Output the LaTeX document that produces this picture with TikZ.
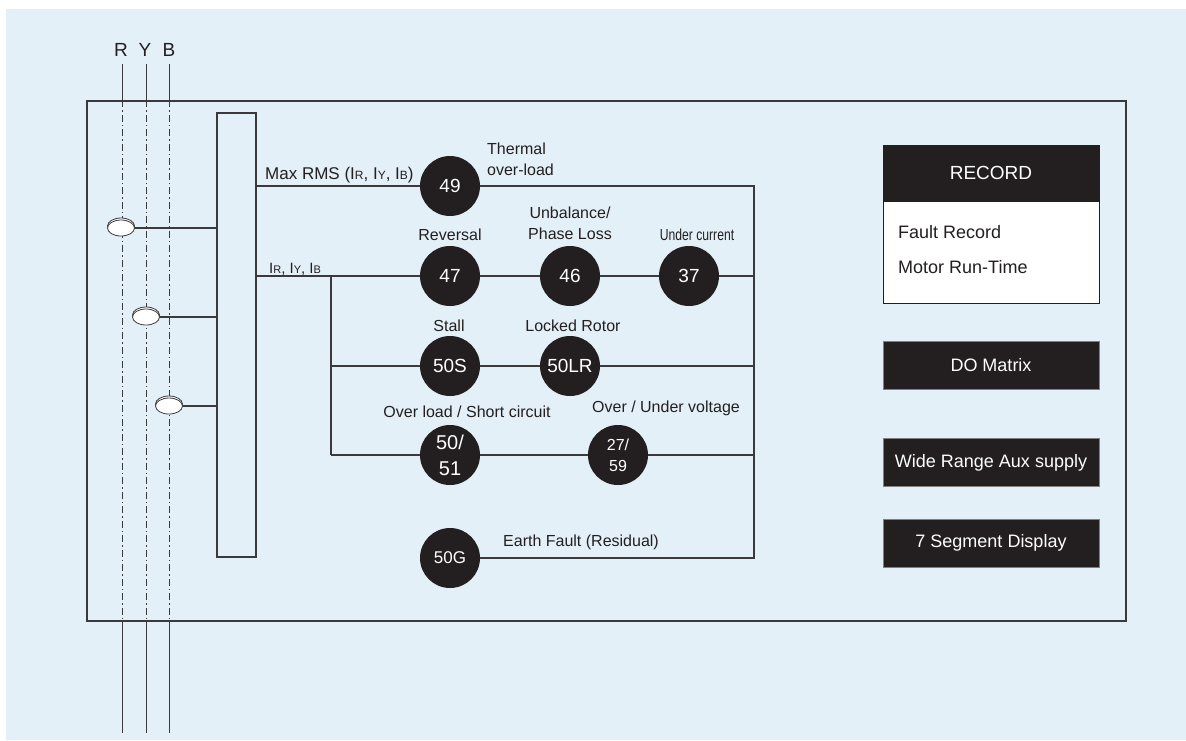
\documentclass[tikz,border=0pt]{standalone}
\usepackage{fontspec}
\setmainfont{Liberation Sans}
\usetikzlibrary{shapes.geometric}
\definecolor{bg}{HTML}{E4F0F7}
\definecolor{ink}{HTML}{231F20}
\definecolor{ln}{HTML}{3A3A3C}
\newcommand{\smsub}[2]{{\fontsize{#1}{#1}\selectfont #2}}
\begin{document}
\begin{tikzpicture}[x=1pt,y=-1pt,
  relay/.style={circle, fill=ink, draw=none, minimum size=60pt, inner sep=0pt, text=white,
    font=\fontsize{19}{24}\selectfont, align=center},
  lbl/.style={font=\fontsize{16}{21}\selectfont, text=ink, inner sep=0pt, align=center},
  wire/.style={draw=ln, line width=1.1pt},
  darkbox/.style={fill=ink, draw=gray, line width=0.8pt, minimum width=216pt, minimum height=48pt,
    text=white, font=\fontsize{18}{20}\selectfont, inner sep=0pt},
  ct/.style={ellipse, draw=ln, fill=white, minimum width=27pt, minimum height=16pt, inner sep=0pt, line width=0.8pt},
  phase/.style={draw=ln, line width=1pt},
  phasein/.style={draw=ln, line width=1pt, dash pattern=on 7pt off 3pt on 1.5pt off 3pt}
]
\useasboundingbox (0,0) rectangle (1186,740);
\fill[white] (0,0) rectangle (1186,740);
\fill[bg] (6,9) rectangle (1186,740);

% panel and bus
\node[draw=ln, line width=1.2pt, minimum width=1039pt, minimum height=520pt, inner sep=0pt] (panel) at (606.5,361) {};
\node[draw=ln, line width=1.1pt, minimum width=39pt, minimum height=444pt, inner sep=0pt] (bus) at (236.5,335) {};

% phases
\node[font=\fontsize{19}{20}\selectfont, text=ink] (lR) at (121,50) {R};
\node[font=\fontsize{19}{20}\selectfont, text=ink] (lY) at (145,50) {Y};
\node[font=\fontsize{19}{20}\selectfont, text=ink] (lB) at (169,50) {B};
\coordinate (Rt) at (122,64); \coordinate (Rb) at (122,733);
\coordinate (Yt) at (146,64); \coordinate (Yb) at (146,733);
\coordinate (Bt) at (169,64); \coordinate (Bb) at (169,733);
\foreach \p in {R,Y,B}{
  \draw[phase] (\p t) -- (\p t |- panel.north);
  \draw[phasein] (\p t |- panel.north) -- (\p t |- panel.south);
  \draw[phase] (\p t |- panel.south) -- (\p b);
}

% CTs
\node[ct] at (121,226) {};
\node[ct] (ctR) at (121,228) {};
\node[ct] at (146,315) {};
\node[ct] (ctY) at (146,317) {};
\node[ct] at (169,404) {};
\node[ct] (ctB) at (169,406) {};
\draw[wire] (ctR.east) -- (ctR.east -| bus.west);
\draw[wire] (ctY.east) -- (ctY.east -| bus.west);
\draw[wire] (ctB.east) -- (ctB.east -| bus.west);

% relays
\coordinate (rtop) at (754,186);
\coordinate (rbot) at (754,558);
\coordinate (br) at (331,276);
\node[relay] (r49) at (450,186) {49};
\node[relay] (r47) at (450,276) {47};
\node[relay] (r46) at (570,276) {46};
\node[relay] (r37) at (689,276) {37};
\node[relay] (r50S) at (450,366) {50S};
\node[relay] (r50LR) at (570,366) {50LR};
\node[relay, font=\fontsize{20}{26}\selectfont] (r5051) at (450,455) {50/\\51};
\node[relay, font=\fontsize{16}{21}\selectfont] (r2759) at (618,455) {27/\\59};
\node[relay, font=\fontsize{17}{20}\selectfont] (r50G) at (450,558) {50G};

% wires
\draw[wire] (bus.east |- rtop) -- (r49) (r49) -- (rtop) -- (rbot) -- (r50G);
\draw[wire] (bus.east |- r47) -- (r47) (r47) -- (r46) (r46) -- (r37) (r37) -- (r37 -| rtop);
\draw[wire] (br) -- (br |- r5051);
\draw[wire] (br |- r50S) -- (r50S) (r50S) -- (r50LR) (r50LR) -- (r50LR -| rtop);
\draw[wire] (br |- r5051) -- (r5051) (r5051) -- (r2759) (r2759) -- (r2759 -| rtop);

% labels
\node[lbl, anchor=base west, font=\fontsize{17}{20}\selectfont] (tmax) at (265,179)
  {Max RMS (I\smsub{12}{R}, I\smsub{12}{Y}, I\smsub{12}{B})};
\node[lbl, anchor=base west, font=\fontsize{15}{18}\selectfont] (tir) at (269,273)
  {I\smsub{11}{R}, I\smsub{11}{Y}, I\smsub{11}{B}};
\node[lbl, anchor=west, align=left] (tth) at (487,159) {Thermal\\over-load};
\node[lbl] (trev) at (450,235) {Reversal};
\node[lbl] (tunb) at (570,223) {Unbalance/\\Phase Loss};
\node[lbl] (tund) at (697,235) {\scalebox{0.76}[1]{Under current}};
\node[lbl] (tst) at (449,326) {Stall};
\node[lbl] (tlr) at (573,326) {Locked Rotor};
\node[lbl] (tol) at (467,412) {Over load / Short circuit};
\node[lbl] (tov) at (666,408) {Over / Under voltage};
\node[lbl] (tef) at (581,542) {Earth Fault (Residual)};

% right boxes
\node[draw=ink, fill=white, line width=0.8pt, minimum width=216pt, minimum height=158pt, inner sep=0pt] (rec) at (991,224) {};
\node[fill=ink, minimum width=216pt, minimum height=57pt, inner sep=0pt, text=white,
  font=\fontsize{19}{20}\selectfont, anchor=north] (rech) at (rec.north) {RECORD};
\node[lbl, anchor=base west, font=\fontsize{18}{20}\selectfont] (tfr) at (898,238) {Fault Record};
\node[lbl, anchor=base west, font=\fontsize{18}{20}\selectfont] (tmr) at (898,273) {Motor Run-Time};
\node[darkbox] (dom) at (991,365) {DO Matrix};
\node[darkbox] (wra) at (991,462.5) {Wide Range Aux supply};
\node[darkbox] (seg) at (991,543) {7 Segment Display};
\end{tikzpicture}
\end{document}
